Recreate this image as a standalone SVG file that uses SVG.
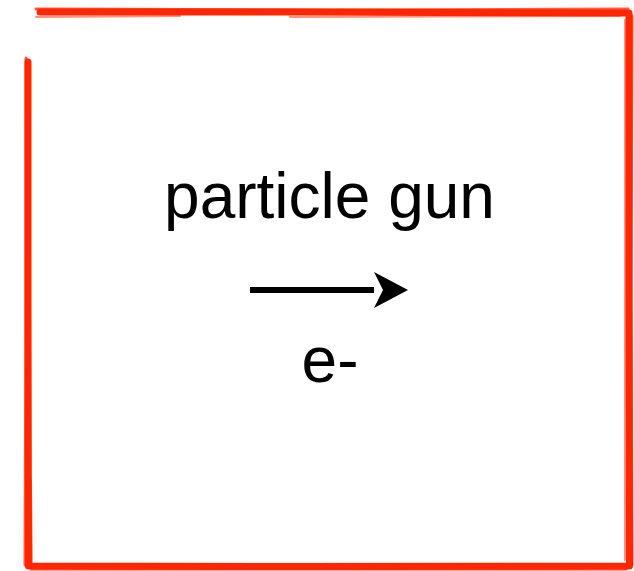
<svg xmlns="http://www.w3.org/2000/svg" width="634" height="571" viewBox="0 0 634 571">
  <style>
    .frame { fill: none; stroke: #ff2600; stroke-linecap: round; stroke-linejoin: round; }
    .label { font-family: "Liberation Sans", Arial, Helvetica, sans-serif; fill: #000; text-anchor: middle; }
  </style>
  <defs>
    <marker id="head" markerUnits="userSpaceOnUse" markerWidth="40" markerHeight="40" refX="0" refY="18" orient="auto">
      <path d="M0,0 L34,18 L0,36 L9,18 Z" fill="#000"/>
    </marker>
  </defs>
  <rect width="634" height="571" fill="#fff"/>
  <g id="frame">
    <path class="frame" stroke-width="7" d="M40,12 L300,12 L629,13 L629,300 L629.5,566 L300,566.5 L28.5,566 L28,300 L28,62"/>
    <path class="frame" stroke-width="3" opacity="0.75" d="M36,9 L320,10 L628,9 M632,16 L631,290 L632,565 M626,569 L300,569 L31,569 M25,565 L26,300 L26,58"/>
    <path class="frame" stroke-width="2" opacity="0.5" d="M36,17 L180,16 M290,17 L620,16 M625,20 L625,560 M31,480 L32,562"/>
  </g>
  <g id="node-gun">
    <text class="label" x="329.5" y="218" font-size="64">particle gun</text>
  </g>
  <g id="connectors">
    <line x1="250" y1="290" x2="374" y2="290" stroke="#000" stroke-width="6" marker-end="url(#head)"/>
  </g>
  <g id="node-electron">
    <text class="label" x="330" y="382" font-size="64">e-</text>
  </g>
</svg>
